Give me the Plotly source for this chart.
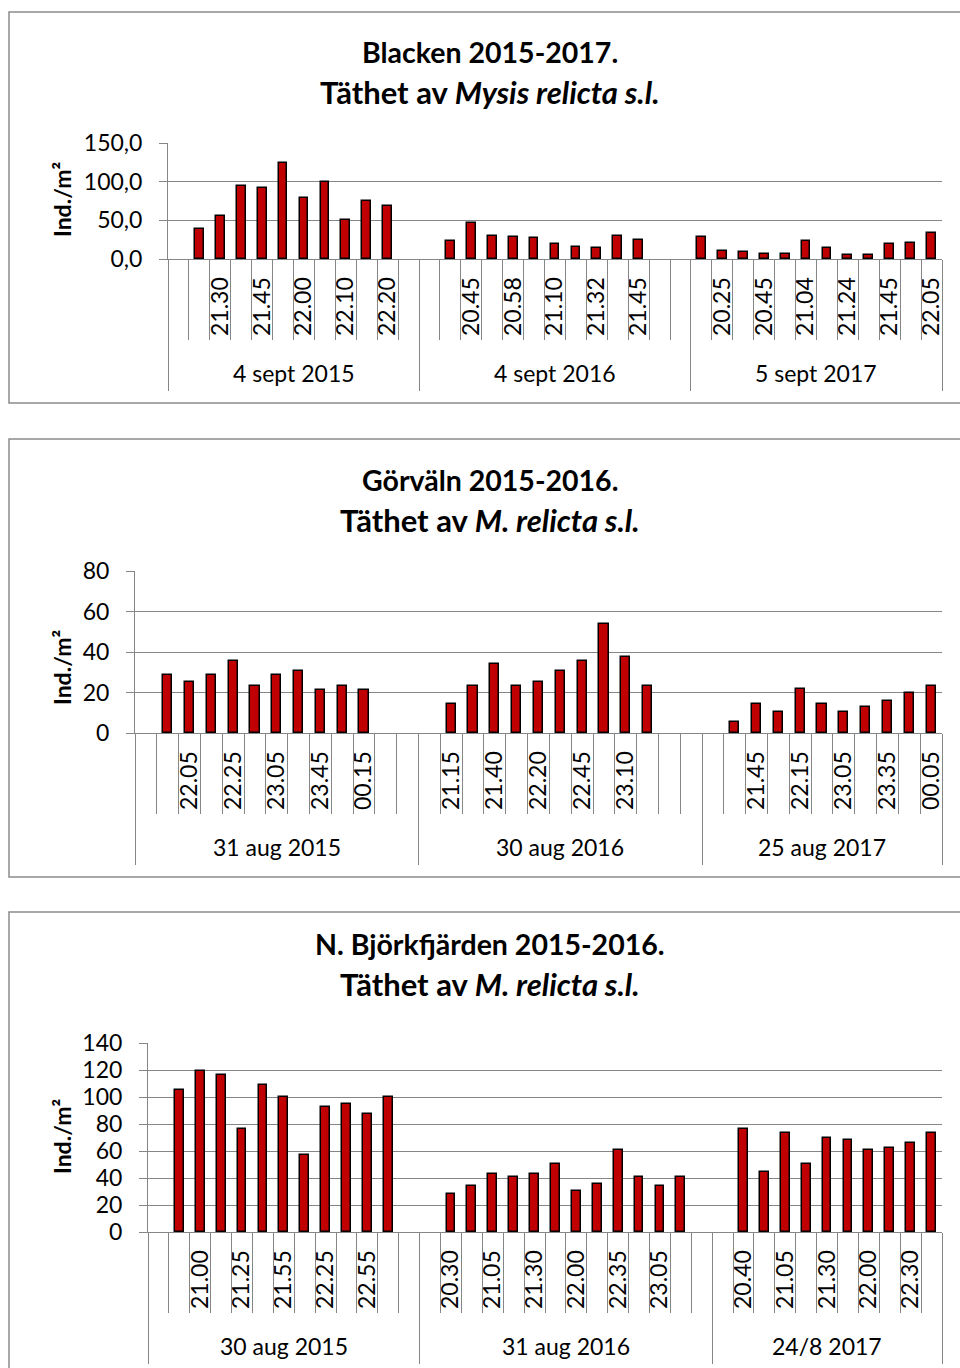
import plotly.graph_objects as go

# Blacken 2015-2017 (slots per sampling night, "" = label not printed)
p1_groups = ["4 sept 2015", "4 sept 2016", "5 sept 2017"]
p1_times = [
    ["", "", "21.30", "", "21.45", "", "22.00", "", "22.10", "", "22.20", ""],
    ["", "", "20.45", "", "20.58", "", "21.10", "", "21.32", "", "21.45", "", ""],
    ["", "20.25", "", "20.45", "", "21.04", "", "21.24", "", "21.45", "", "22.05"],
]
p1_values = [
    [None, 39.0, 55.5, 94.9, 91.5, 123.5, 78.9, 99.3, 50.3, 75.0, 68.1, None],
    [None, 23.4, 46.0, 29.9, 28.6, 26.9, 19.5, 16.0, 14.3, 29.9, 25.1, None, None],
    [28.6, 10.8, 8.7, 6.9, 6.9, 23.4, 14.3, 5.2, 5.2, 19.5, 21.2, 33.8],
]

# Görväln 2015-2017
p2_groups = ["31 aug 2015", "30 aug 2016", "25 aug 2017"]
p2_times = [
    ["", "", "22.05", "", "22.25", "", "23.05", "", "23.45", "", "00.15", "", ""],
    ["", "21.15", "", "21.40", "", "22.20", "", "22.45", "", "23.10", "", "", ""],
    ["", "", "21.45", "", "22.15", "", "23.05", "", "23.35", "", "00.05"],
]
p2_values = [
    [None, 28.4, 25.0, 28.4, 35.7, 23.1, 28.4, 30.4, 21.3, 23.1, 21.3, None, None],
    [None, 14.2, 23.1, 33.9, 23.1, 25.0, 30.6, 35.7, 53.7, 37.5, 23.1, None, None],
    [None, 5.3, 14.2, 10.6, 21.5, 14.2, 10.6, 12.6, 16.0, 19.7, 23.1],
]

# N. Björkfjärden 2015-2017
p3_groups = ["30 aug 2015", "31 aug 2016", "24/8 2017"]
p3_times = [
    ["", "", "21.00", "", "21.25", "", "21.55", "", "22.25", "", "22.55", "", ""],
    ["", "20.30", "", "21.05", "", "21.30", "", "22.00", "", "22.35", "", "23.05", "", ""],
    ["", "20.40", "", "21.05", "", "21.30", "", "22.00", "", "22.30", ""],
]
p3_values = [
    [None, 105.0, 119.6, 116.1, 76.5, 108.7, 99.9, 57.1, 92.5, 94.5, 87.6, 99.9, None],
    [None, 28.5, 34.2, 42.8, 41.1, 42.8, 50.2, 30.5, 35.7, 60.8, 41.1, 34.2, 41.1, None],
    [None, 76.5, 44.5, 73.1, 50.2, 69.6, 67.9, 60.8, 62.5, 65.9, 73.1],
]

W, H = 960, 1368
GRAY = '#868686'
FONT = 'Lato'
BAR = '#C00000'
TXT = 23


def fx(v):
    return v / W


def fy(v):
    return 1 - v / H


panels = [
    dict(groups=p1_groups, times=p1_times, values=p1_values,
         title1='Blacken 2015-2017.', title2='Täthet av <i>Mysis relicta s.l.</i>',
         plot=(168, 942, 143, 259), ymax=150, dtick=50, fmt='.1f',
         ty=(52, 92), yt=200, gy=373, frame=(12, 403)),
    dict(groups=p2_groups, times=p2_times, values=p2_values,
         title1='Görväln 2015-2016.', title2='Täthet av <i>M. relicta s.l.</i>',
         plot=(135, 942, 571, 733), ymax=80, dtick=20, fmt='d',
         ty=(480, 520), yt=668, gy=847, frame=(439, 877)),
    dict(groups=p3_groups, times=p3_times, values=p3_values,
         title1='N. Björkfjärden 2015-2016.', title2='Täthet av <i>M. relicta s.l.</i>',
         plot=(148, 942, 1043, 1232), ymax=140, dtick=20, fmt='d',
         ty=(944, 984), yt=1137, gy=1346, frame=(912, 1420)),
]

fig = go.Figure()
layout = {}
annotations = []
shapes = []


def note(text, x, y, xref='paper', size=TXT, angle=0):
    annotations.append(dict(x=x, y=y, xref=xref, yref='paper', text=text,
                            textangle=angle, showarrow=False,
                            xanchor='center', yanchor='middle',
                            font=dict(size=size, color='black')))


for k, p in enumerate(panels):
    n = 3 * k + 1
    xm = 'x' if n == 1 else 'x%d' % n
    xb = 'x%d' % (n + 1)
    xg = 'x%d' % (n + 2)
    ya = 'y' if k == 0 else 'y%d' % (k + 1)

    # flatten the slots of the three nights onto one category scale
    xs, ys, tickvals, ticktext, bounds, centers = [], [], [], [], [0.5], []
    pos = 0
    for times, vals in zip(p['times'], p['values']):
        start = pos
        for t, v in zip(times, vals):
            pos += 1
            if v is not None:
                xs.append(pos)
                ys.append(v)
            if t:
                tickvals.append(pos)
                ticktext.append(t)
        bounds.append(pos + 0.5)
        centers.append((start + pos + 1) / 2)
    rng = [0.5, pos + 0.5]

    fig.add_trace(go.Bar(
        x=xs, y=ys, xaxis=xm, yaxis=ya, width=0.42,
        marker=dict(color=BAR, line=dict(color='black', width=1.5)),
        showlegend=False, hoverinfo='x+y'))
    for ax in (xb, xg):
        fig.add_trace(go.Scatter(x=rng, y=[0, 0], xaxis=ax, yaxis=ya, mode='none',
                                 showlegend=False, hoverinfo='skip'))

    x0, x1, y0, y1 = p['plot']
    key = lambda a: 'xaxis' if a == 'x' else 'xaxis' + a[1:]
    layout[key(xm)] = dict(
        domain=[fx(x0), fx(x1)], anchor=ya, range=rng, tickmode='array',
        tickvals=tickvals, ticktext=ticktext, tickangle=-90, ticks='',
        ticklabelstandoff=8, showline=True, linecolor=GRAY, linewidth=1,
        showgrid=False, zeroline=False, automargin=False,
        tickfont=dict(size=TXT, color='black'))
    layout[key(xb)] = dict(
        overlaying=xm, anchor=ya, range=rng, tickmode='array',
        tickvals=[b + 0.5 for b in range(pos + 1)], ticks='outside', ticklen=80,
        tickcolor=GRAY, tickwidth=1, showticklabels=False, showgrid=False,
        zeroline=False, showline=False, automargin=False)
    layout[key(xg)] = dict(
        overlaying=xm, anchor=ya, range=rng, tickmode='array',
        tickvals=bounds, ticks='outside', ticklen=131,
        tickcolor=GRAY, tickwidth=1, showticklabels=False, showgrid=False,
        zeroline=False, showline=False, automargin=False)
    layout['yaxis' if k == 0 else 'yaxis%d' % (k + 1)] = dict(
        domain=[fy(y1), fy(y0)], anchor=xm, range=[0, p['ymax']], dtick=p['dtick'],
        tickformat=p['fmt'], showline=True, linecolor=GRAY, gridcolor=GRAY,
        gridwidth=1, ticks='outside', ticklen=8, tickcolor=GRAY,
        ticklabelstandoff=12, zeroline=False, automargin=False,
        tickfont=dict(size=TXT, color='black'))

    for g, c in zip(p['groups'], centers):
        note(g, c, fy(p['gy']), xref=xm)
    note('<b>%s</b>' % p['title1'], fx(490), fy(p['ty'][0]), size=28.5)
    note('<b>%s</b>' % p['title2'], fx(490), fy(p['ty'][1]), size=31)
    note('<b>Ind./m²</b>', fx(62), fy(p['yt']), angle=-90)
    shapes.append(dict(type='rect', xref='paper', yref='paper',
                       x0=fx(9), x1=1.1, y0=fy(p['frame'][1]), y1=fy(p['frame'][0]),
                       line=dict(color='#8C8C8C', width=1.5)))

fig.update_layout(
    **layout,
    annotations=annotations,
    shapes=shapes,
    width=W,
    height=H,
    margin=dict(l=0, r=0, t=0, b=0, pad=0, autoexpand=False),
    font=dict(family=FONT, color='black'),
    separators=', ',
    plot_bgcolor='white',
    paper_bgcolor='white',
    bargap=0,
)

# pin the plot to the top-left corner of the page (no body margin / scrolling)
pin = ("var d = document.getElementById('{plot_id}');"
       "d.style.position = 'fixed'; d.style.top = '0px'; d.style.left = '0px';"
       "document.body.style.margin = '0px';")
fig.write_html("out.html", post_script=pin, config={'displayModeBar': False})
